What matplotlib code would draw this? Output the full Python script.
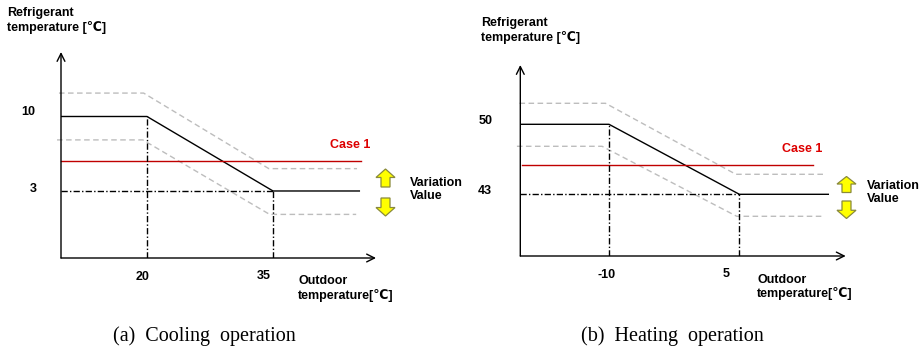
import matplotlib
matplotlib.use("Agg")
import matplotlib.pyplot as plt
from matplotlib.patches import Polygon

# ---------------- data ----------------
# Cooling operation (a)
cool_bp_x = [20, 35]            # outdoor temperature break points
cool_bp_y = [10, 3]             # refrigerant temperature at break points
cool_upper_x = [19.6, 34.5]
cool_upper_y = [12.2, 5.1]
cool_lower_x = [19.5, 34.6]
cool_lower_y = [7.8, 0.8]
cool_case1 = 5.8
cool_xticks = [20, 35]
cool_yticks = [10, 3]

# Heating operation (b)
heat_bp_x = [-10, 5]
heat_bp_y = [50, 43]
heat_upper_x = [-10.4, 4.6]
heat_upper_y = [52.1, 45.0]
heat_lower_x = [-10.8, 4.7]
heat_lower_y = [47.8, 40.8]
heat_case1 = 45.9
heat_xticks = [-10, 5]
heat_yticks = [50, 43]

ylabel_text = "Refrigerant\ntemperature [\u2103]"
xlabel_text = "Outdoor\ntemperature[\u2103]"
case_label = "Case 1"
variation_label = "Variation\nValue"
captions = ["(a)  Cooling  operation", "(b)  Heating  operation"]

W, H = 921, 351
fig = plt.figure(figsize=(W / 100, H / 100), dpi=100)
fig.patch.set_facecolor("white")

LBL = dict(family=["Liberation Sans", "DejaVu Sans"], weight="bold", fontsize=9)
TICK = dict(family=["Liberation Sans Narrow", "Liberation Sans", "DejaVu Sans"],
            weight="bold", fontsize=9)

GRAY = "#bdbdbd"
RED = "#c00000"


def px_axes(x0, y0, x1, y1):
    """axes occupying pixel box (top-left origin)"""
    return fig.add_axes([x0 / W, (H - y1) / H, (x1 - x0) / W, (y1 - y0) / H])


def panel(ax, xlim, ylim, bp_x, bp_y, up_x, up_y, lo_x, lo_y, case1,
          xticks, yticks, end_solid, end_up, end_lo, red_x, start_up, start_lo,
          xtick_off, ytick_off):
    ax.set_xlim(*xlim)
    ax.set_ylim(*ylim)
    ax.axis("off")
    x0, y0 = xlim[0], ylim[0]
    # axes with open arrowheads
    ax.annotate("", xy=(xlim[1], y0), xytext=(x0, y0),
                arrowprops=dict(arrowstyle="->", lw=1.0, color="black",
                                mutation_scale=14, shrinkA=0, shrinkB=0),
                annotation_clip=False)
    ax.annotate("", xy=(x0, ylim[1]), xytext=(x0, y0),
                arrowprops=dict(arrowstyle="->", lw=1.0, color="black",
                                mutation_scale=14, shrinkA=0, shrinkB=0),
                annotation_clip=False)
    # main solid curve
    ax.plot([x0, bp_x[0], bp_x[1], end_solid],
            [bp_y[0], bp_y[0], bp_y[1], bp_y[1]], color="black", lw=1.0,
            solid_capstyle="butt", clip_on=False)
    # variation dashed curves
    ax.plot([start_up, up_x[0], up_x[1], end_up],
            [up_y[0], up_y[0], up_y[1], up_y[1]], color=GRAY, lw=1.0,
            linestyle=(0, (4, 2.5)), clip_on=False)
    ax.plot([start_lo, lo_x[0], lo_x[1], end_lo],
            [lo_y[0], lo_y[0], lo_y[1], lo_y[1]], color=GRAY, lw=1.0,
            linestyle=(0, (4, 2.5)), clip_on=False)
    # Case 1 line
    ax.plot(red_x, [case1, case1], color=RED, lw=1.0, clip_on=False)
    # dash-dot guide lines
    dd = (0, (4.5, 1.6, 1, 1.6))
    ax.plot([x0, bp_x[1]], [bp_y[1], bp_y[1]], color="black", lw=1.0, linestyle=dd)
    ax.plot([bp_x[0], bp_x[0]], [y0, bp_y[0]], color="black", lw=1.0, linestyle=dd)
    ax.plot([bp_x[1], bp_x[1]], [y0, bp_y[1]], color="black", lw=1.0, linestyle=dd)
    # tick labels
    for xv, off in zip(xticks, xtick_off):
        ax.annotate(str(xv), xy=(xv, y0), xytext=off, textcoords="offset pixels",
                    ha="center", va="center", **TICK)
    for yv, off in zip(yticks, ytick_off):
        ax.annotate(str(yv), xy=(x0, yv), xytext=off, textcoords="offset pixels",
                    ha="center", va="center", **TICK)


axL = px_axes(61, 52, 376, 258)
panel(axL, (9.762, 47.26), (-3.297, 16.06), cool_bp_x, cool_bp_y,
      cool_upper_x, cool_upper_y, cool_lower_x, cool_lower_y, cool_case1,
      cool_xticks, cool_yticks, end_solid=45.36, end_up=45.0, end_lo=44.9,
      red_x=[9.762, 45.5], start_up=9.52, start_lo=9.29,
      xtick_off=[(-4, -19), (-9, -18)], ytick_off=[(-33, 4), (-28, 2)])

axR = px_axes(520.3, 65, 845.7, 256)
panel(axR, (-20.21, 17.24), (36.83, 55.93), heat_bp_x, heat_bp_y,
      heat_upper_x, heat_upper_y, heat_lower_x, heat_lower_y, heat_case1,
      heat_xticks, heat_yticks, end_solid=15.32, end_up=14.86, end_lo=14.48,
      red_x=[-20.0, 13.47], start_up=-20.3, start_lo=-20.6,
      xtick_off=[(-2, -19), (-13, -18)], ytick_off=[(-35, 3), (-35, 3)])

# ---------------- overlay for annotations ----------------
ov = fig.add_axes([0, 0, 1, 1])
ov.set_xlim(0, W)
ov.set_ylim(H, 0)
ov.axis("off")
ov.patch.set_alpha(0)

ov.text(7, 20.5, ylabel_text, ha="left", va="center", linespacing=1.15, **LBL)
ov.text(481, 30.5, ylabel_text, ha="left", va="center", linespacing=1.15, **LBL)
ov.text(298, 288.5, xlabel_text, ha="left", va="center", linespacing=1.15, **LBL)
ov.text(757, 287, xlabel_text, ha="left", va="center", linespacing=1.15, **LBL)
ov.text(350, 145, case_label, ha="center", va="center", color="#dd0000", **LBL)
ov.text(801.7, 149, case_label, ha="center", va="center", color="#dd0000", **LBL)
ov.text(410, 189.5, variation_label, ha="left", va="center", linespacing=1.15, **LBL)
ov.text(866.7, 192.5, variation_label, ha="left", va="center", linespacing=1.15, **LBL)

ov.text(204.5, 336, captions[0], ha="center", va="center",
        family=["Liberation Serif", "DejaVu Serif"], fontsize=14.5)
ov.text(672, 336, captions[1], ha="center", va="center",
        family=["Liberation Serif", "DejaVu Serif"], fontsize=14.5)


def block_arrow(cx, top, bottom, up=True):
    hw, bw = 9.5, 4.5
    hh = (bottom - top) * 0.47
    if up:
        pts = [(cx, top), (cx + hw, top + hh), (cx + bw, top + hh), (cx + bw, bottom),
               (cx - bw, bottom), (cx - bw, top + hh), (cx - hw, top + hh)]
    else:
        pts = [(cx, bottom), (cx + hw, bottom - hh), (cx + bw, bottom - hh), (cx + bw, top),
               (cx - bw, top), (cx - bw, bottom - hh), (cx - hw, bottom - hh)]
    ov.add_patch(Polygon(pts, closed=True, facecolor="#ffff00", edgecolor="#8a8a3a",
                         lw=0.9, joinstyle="miter"))


block_arrow(385.5, 169, 187, up=True)
block_arrow(385.5, 198, 216, up=False)
block_arrow(846.5, 176.5, 192.5, up=True)
block_arrow(846.5, 201, 218.5, up=False)

fig.savefig("out.png", dpi=100, facecolor="white")
